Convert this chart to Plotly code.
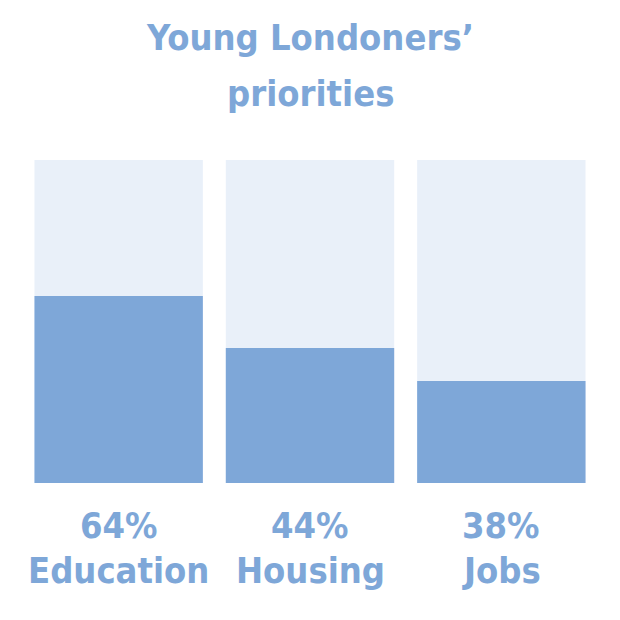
import plotly.graph_objects as go

# data
categories = ["Education", "Housing", "Jobs"]
label_pct = [64, 44, 38]          # printed under each bar
bar_height = [57.9, 41.8, 31.6]   # drawn height of the filled part (scale 0-100)
full = [100, 100, 100]
title_lines = ["Young Londoners’", "priorities"]

FONT = "DejaVu Sans Condensed, Liberation Sans Narrow, sans-serif"
BLUE = "#7ea7d8"
PALE = "#e9f0f9"
SIZE = 36

fig = go.Figure()
fig.add_bar(x=categories, y=full, marker=dict(color=PALE, line_width=0), hoverinfo="skip")
fig.add_bar(x=categories, y=bar_height, marker=dict(color=BLUE, line_width=0))

# * two lines of text under each bar
for cat, pct in zip(categories, label_pct):
    fig.add_annotation(x=cat, xref="x", y=-0.133, yref="paper", text=f"<b>{pct}%</b>",
                       showarrow=False, yanchor="middle",
                       font=dict(family=FONT, size=SIZE, color=BLUE))
    fig.add_annotation(x=cat, xref="x", y=-0.272, yref="paper", text=f"<b>{cat}</b>",
                       showarrow=False, yanchor="middle",
                       font=dict(family=FONT, size=SIZE, color=BLUE))

# * title as two separate lines (wider line spacing than plotly's default)
for line, ypos in zip(title_lines, [1.379, 1.206]):
    fig.add_annotation(x=0.5, xref="paper", y=ypos, yref="paper", text=f"<b>{line}</b>",
                       showarrow=False, yanchor="middle",
                       font=dict(family=FONT, size=SIZE, color=BLUE))

fig.update_layout(
    width=620,
    height=620,
    barmode="overlay",
    bargap=0.12,
    showlegend=False,
    paper_bgcolor="white",
    plot_bgcolor="white",
    # page puts the figure ~8px in from the top-left corner
    margin=dict(l=15, r=31, t=152, b=145),
)
fig.update_xaxes(visible=False, range=[-0.5, 2.5])
fig.update_yaxes(visible=False, range=[0, 100])

fig.write_html("out.html")
